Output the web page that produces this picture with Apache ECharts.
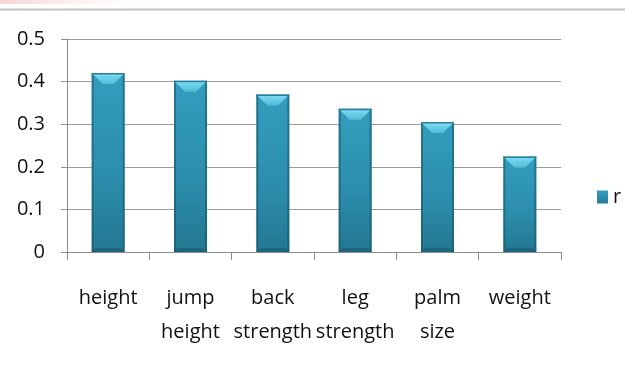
<!DOCTYPE html>
<html>
<head>
<meta charset="utf-8">
<script src="https://cdn.jsdelivr.net/npm/echarts@6/dist/echarts.min.js"></script>
<style>
html,body{margin:0;padding:0;background:#fff;}
#chart{width:625px;height:373px;}
</style>
</head>
<body>
<div id="chart"></div>
<script>
var categories = ['height', 'jump\nheight', 'back\nstrength', 'leg\nstrength', 'palm\nsize', 'weight'];
var values = [0.42, 0.402, 0.37, 0.336, 0.305, 0.224];
var yTicks = [0, 0.1, 0.2, 0.3, 0.4, 0.5];
var seriesName = 'r';

var FONT = '"Open Sans", sans-serif';
var chart = echarts.init(document.getElementById('chart'));

var barGrad = new echarts.graphic.LinearGradient(0, 0, 0, 1, [
  {offset: 0, color: '#339dbd'},
  {offset: 0.6, color: '#2b8dab'},
  {offset: 1, color: '#237790'}
]);

function renderBevel(params, api) {
  var idx = api.value(0);
  var v = api.value(1);
  var top = api.coord([idx, v]);
  var base = api.coord([idx, 0]);
  var w = 33;
  var x0 = top[0] - w / 2, x1 = top[0] + w / 2;
  var yt = top[1], yb = base[1];
  var b = 11;
  return {
    type: 'group',
    silent: true,
    children: [
      {
        type: 'rect',
        shape: {x: x0, y: yt, width: 2, height: yb - yt},
        style: {fill: 'rgba(20,80,100,0.5)'}
      },
      {
        type: 'rect',
        shape: {x: x1 - 2, y: yt, width: 2, height: yb - yt},
        style: {fill: 'rgba(20,80,100,0.5)'}
      },
      {
        type: 'polygon',
        shape: {points: [[x0, yb], [x1, yb], [x1 - 4, yb - 4], [x0 + 4, yb - 4]]},
        style: {fill: 'rgba(20,70,90,0.35)'}
      },
      {
        type: 'polygon',
        shape: {points: [[x0, yt], [x1, yt], [x1 - b, yt + b], [x0 + b, yt + b]]},
        style: {
          fill: new echarts.graphic.LinearGradient(0, 0, 0, 1, [
            {offset: 0, color: '#82def3'},
            {offset: 1, color: '#4fbcd9'}
          ])
        }
      },
      {
        type: 'rect',
        shape: {x: x0, y: yt, width: w, height: 1.5},
        style: {fill: '#2c7f98'}
      }
    ]
  };
}

var option = {
  backgroundColor: '#ffffff',
  animation: false,
  graphic: [
    {
      type: 'rect',
      shape: {x: 0, y: 0, width: 180, height: 4},
      style: {fill: new echarts.graphic.LinearGradient(0, 0, 1, 0, [
        {offset: 0, color: 'rgba(240,170,170,0.5)'},
        {offset: 1, color: 'rgba(255,255,255,0)'}
      ])},
      silent: true
    },
    {
      type: 'line',
      shape: {x1: 0, y1: 9.5, x2: 625, y2: 9.5},
      style: {stroke: '#c4c4c4', lineWidth: 2},
      silent: true
    }
  ],
  grid: {left: 67, right: 64, top: 39, bottom: 121, containLabel: false},
  legend: {
    data: [seriesName],
    left: 597,
    top: 187,
    padding: 0,
    orient: 'vertical',
    itemWidth: 11,
    itemHeight: 13,
    itemGap: 5,
    icon: 'rect',
    textStyle: {fontFamily: FONT, fontSize: 20, color: '#111'}
  },
  xAxis: {
    type: 'category',
    data: categories,
    axisLine: {lineStyle: {color: '#8c8c8c', width: 1}},
    axisTick: {show: true, length: 8, alignWithLabel: false, lineStyle: {color: '#8c8c8c'}},
    axisLabel: {
      interval: 0,
      margin: 29,
      fontFamily: FONT,
      fontSize: 20,
      lineHeight: 34,
      color: '#111'
    }
  },
  yAxis: {
    type: 'value',
    min: yTicks[0],
    max: yTicks[yTicks.length - 1],
    interval: 0.1,
    axisLine: {show: true, lineStyle: {color: '#8c8c8c', width: 1}},
    axisTick: {show: true, length: 6, lineStyle: {color: '#8c8c8c'}},
    splitLine: {show: true, lineStyle: {color: '#9c9c9c', width: 1}},
    axisLabel: {
      margin: 22,
      fontFamily: FONT,
      fontSize: 20,
      color: '#111',
      formatter: function (v) { return String(Math.round(v * 10) / 10); }
    }
  },
  series: [
    {
      name: seriesName,
      type: 'bar',
      data: values,
      barWidth: 33,
      itemStyle: {color: barGrad}
    },
    {
      name: 'bevel',
      type: 'custom',
      silent: true,
      z: 3,
      data: values.map(function (v, i) { return [i, v]; }),
      renderItem: renderBevel
    }
  ]
};
chart.setOption(option);
</script>
</body>
</html>
